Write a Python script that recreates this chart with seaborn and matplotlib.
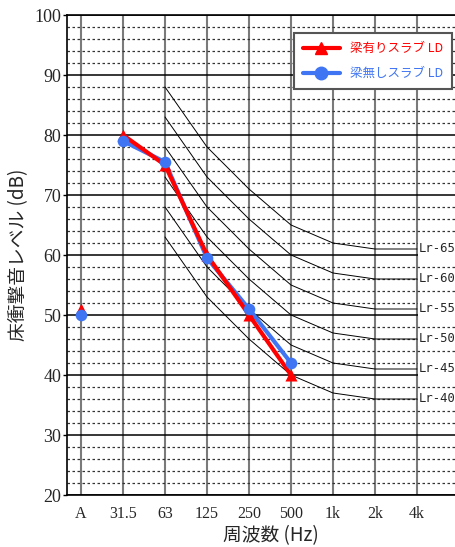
import numpy as np
import pandas as pd
import seaborn as sns
import matplotlib.pyplot as plt
from matplotlib.lines import Line2D

# frequency bands (x categories)
freq_labels = ["A", "31.5", "63", "125", "250", "500", "1k", "2k", "4k"]

# measured floor impact levels (A, 31.5 .. 500 Hz)
meas_bands = ["A", "31.5", "63", "125", "250", "500"]
beam_slab = [51, 80, 75, 60, 50, 40]        # 梁有りスラブ LD
nobeam_slab = [50, 79, 75.5, 59.5, 51, 42]   # 梁無しスラブ LD

# Lr reference curves (63 Hz .. 4k Hz), offset from Lr number
lr_bands = ["63", "125", "250", "500", "1k", "2k", "4k"]
lr_numbers = [65, 60, 55, 50, 45, 40]
lr_offsets = [23, 13, 6, 0, -3, -4, -4]

sns.set_theme(style="white")
plt.rcParams['font.family'] = ['Noto Sans CJK JP', 'DejaVu Sans']

pos = {f: i for i, f in enumerate(freq_labels)}

meas_df = pd.DataFrame({
    "band": meas_bands * 2,
    "level": beam_slab + nobeam_slab,
    "slab": ["beam"] * 6 + ["nobeam"] * 6,
})
meas_df["x"] = meas_df["band"].map(pos)

lr_rows = []
for n in lr_numbers:
    for b, off in zip(lr_bands, lr_offsets):
        lr_rows.append({"lr": n, "x": pos[b], "level": n + off})
lr_df = pd.DataFrame(lr_rows)

fig = plt.figure(figsize=(4.56, 5.47), dpi=100)
ax = fig.add_axes([67 / 456, 52 / 547, (456 - 67) / 456, 480 / 547])

red = "#ff0000"
blue = "#3f74f2"

# Lr curves
for n in lr_numbers:
    d = lr_df[lr_df["lr"] == n]
    sns.lineplot(data=d, x="x", y="level", color="black", linewidth=0.7,
                 ax=ax, zorder=2, legend=False)
    ax.text(8.03, d["level"].iloc[-1], f"Lr-{n}", ha="left", va="center",
            fontsize=8.8, family="DejaVu Sans Mono", zorder=3,
            bbox=dict(facecolor="white", edgecolor="none", pad=0.5))

beam = meas_df[meas_df["slab"] == "beam"]
nobeam = meas_df[meas_df["slab"] == "nobeam"]
beam_line = beam[beam["band"] != "A"]
nobeam_line = nobeam[nobeam["band"] != "A"]

# lines
sns.lineplot(data=nobeam_line, x="x", y="level", color=blue, linewidth=3,
             ax=ax, zorder=4, legend=False)
sns.lineplot(data=beam_line, x="x", y="level", color=red, linewidth=3,
             ax=ax, zorder=5, legend=False)
# markers
sns.scatterplot(data=beam, x="x", y="level", color=red, marker="^", s=75,
                edgecolor=red, linewidth=0, ax=ax, zorder=6, legend=False)
sns.scatterplot(data=nobeam, x="x", y="level", color=blue, marker="o", s=70,
                edgecolor=blue, linewidth=0, ax=ax, zorder=7, legend=False)

ax.set_xlim(-1 / 3, (456 - 81) / 42)
ax.set_ylim(20, 100)
ax.set_xticks(range(len(freq_labels)))
ax.set_xticklabels(freq_labels, family="Liberation Serif", fontsize=11.5)
ax.set_yticks(range(20, 101, 10))
ax.set_yticks(range(20, 101, 2), minor=True)
ax.set_yticklabels([str(v) for v in range(20, 101, 10)],
                   family="Liberation Serif", fontsize=13)
ax.tick_params(axis="x", length=0, pad=8)
ax.tick_params(axis="y", which="major", length=3, width=1, color="black",
               left=True, pad=1)
ax.tick_params(axis="y", which="minor", length=0)

ax.yaxis.grid(True, which="major", color="black", linewidth=1.1)
ax.yaxis.grid(True, which="minor", color="#333333", linewidth=0.9,
              linestyle=(0, (2, 2)))
ax.xaxis.grid(True, which="major", color="#7a7a7a", linewidth=1.5)
ax.set_axisbelow(True)

for side in ["left", "bottom", "top"]:
    ax.spines[side].set_color("black")
    ax.spines[side].set_linewidth(1.2)
ax.spines["right"].set_visible(False)

ax.set_xlabel("周波数 (Hz)", fontsize=13.5)
ax.xaxis.set_label_coords((271 - 67) / 389, -30 / 480)
ax.set_ylabel("床衝撃音レベル (dB)", fontsize=13.5)
ax.yaxis.set_label_coords(-38 / 389, 0.5)

handles = [
    Line2D([], [], color=red, linewidth=3, marker="^", markersize=9),
    Line2D([], [], color=blue, linewidth=3, marker="o", markersize=9),
]
leg = ax.legend(handles, ["梁有りスラブ LD", "梁無しスラブ LD"],
                loc="upper right", bbox_to_anchor=(0.99, 0.963),
                borderaxespad=0, fancybox=False, framealpha=1,
                edgecolor="#555555", fontsize=9, handlelength=2.9,
                labelspacing=0.95, borderpad=0.75)
leg.get_frame().set_linewidth(1.5)
leg.set_zorder(10)
for txt, c in zip(leg.get_texts(), [red, blue]):
    txt.set_color(c)

fig.savefig("out.png", dpi=100)
